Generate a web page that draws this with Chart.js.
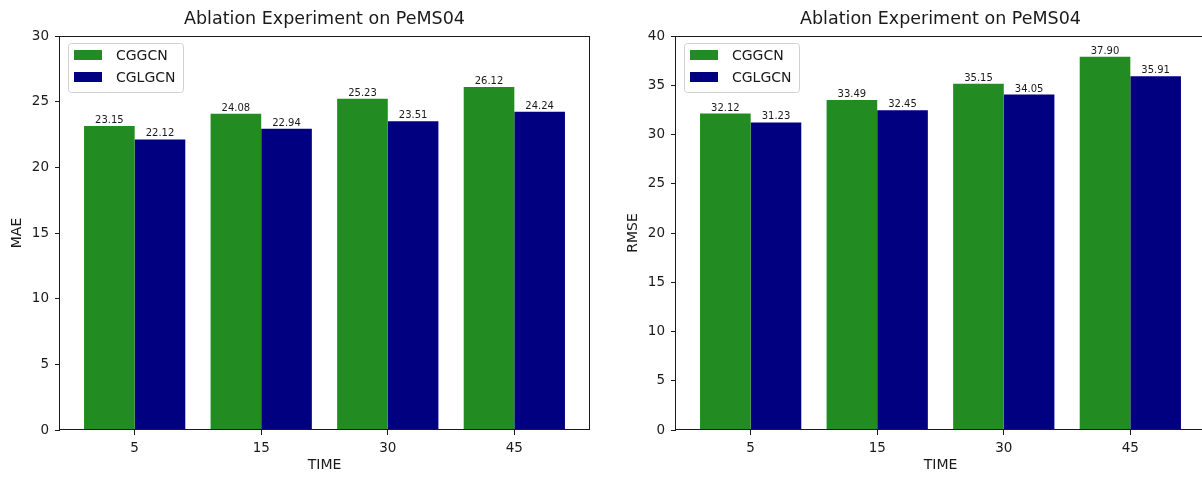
<!DOCTYPE html>
<html>
<head>
<meta charset="utf-8">
<script src="https://cdn.jsdelivr.net/npm/chart.js@4/dist/chart.umd.min.js"></script>
<style>
  html, body { margin: 0; padding: 0; background: #fff; overflow: hidden; }
  body { width: 1202px; height: 477px; position: relative; }
  canvas { position: absolute; top: 0; }
  #chartMae { left: 0; }
  #chartRmse { left: 616px; }
</style>
</head>
<body>
<canvas id="chartMae" width="600" height="477"></canvas>
<canvas id="chartRmse" width="600" height="477"></canvas>

<script>
const timeLabels = ['5', '15', '30', '45'];
const seriesNames = ['CGGCN', 'CGLGCN'];
const seriesColors = ['#228B22', '#000080'];

const maeCGGCN = [23.15, 24.08, 25.23, 26.12];
const maeCGLGCN = [22.12, 22.94, 23.51, 24.24];
const rmseCGGCN = [32.12, 33.49, 35.15, 37.90];
const rmseCGLGCN = [31.23, 32.45, 34.05, 35.91];

const FONT = "'DejaVu Sans', sans-serif";
const INK = '#1a1a1a';

// top + right spines (matplotlib box)
const framePlugin = {
  id: 'frame',
  afterDatasetsDraw(chart) {
    const {ctx, chartArea: a} = chart;
    ctx.save();
    ctx.strokeStyle = INK;
    ctx.lineWidth = 1;
    ctx.strokeRect(Math.round(a.left) - 0.5, Math.round(a.top) + 0.5,
      Math.round(a.right - a.left) + 1, Math.round(a.bottom - a.top) - 1);
    ctx.restore();
  }
};

// numbers above bars
const valueLabels = {
  id: 'valueLabels',
  afterDatasetsDraw(chart) {
    const {ctx} = chart;
    ctx.save();
    ctx.font = '10px ' + FONT;
    ctx.fillStyle = INK;
    ctx.textAlign = 'center';
    ctx.textBaseline = 'alphabetic';
    chart.data.datasets.forEach((ds, i) => {
      chart.getDatasetMeta(i).data.forEach((bar, j) => {
        ctx.fillText(ds.data[j].y.toFixed(2), bar.x, bar.y - 3);
      });
    });
    ctx.restore();
  }
};

// legend box in upper left of the axes
const boxLegend = {
  id: 'boxLegend',
  afterDatasetsDraw(chart) {
    const {ctx, chartArea: a} = chart;
    ctx.save();
    ctx.font = '14px ' + FONT;
    const textX = a.left + 56;
    let maxW = 0;
    chart.data.datasets.forEach(ds => { maxW = Math.max(maxW, ctx.measureText(ds.label).width); });
    const x = a.left + 8.5, y = a.top + 7.5;
    const w = textX + maxW + 8 - x, h = 49;
    ctx.beginPath();
    ctx.roundRect(x, y, w, h, 3);
    ctx.fillStyle = 'rgba(255,255,255,0.85)';
    ctx.fill();
    ctx.strokeStyle = '#d0d0d0';
    ctx.lineWidth = 1;
    ctx.stroke();
    ctx.textBaseline = 'middle';
    ctx.textAlign = 'left';
    chart.data.datasets.forEach((ds, i) => {
      const cy = a.top + 19 + i * 22;
      ctx.fillStyle = ds.backgroundColor;
      ctx.fillRect(a.left + 14, cy - 5, 28, 10);
      ctx.fillStyle = INK;
      ctx.fillText(ds.label, textX, cy + 1);
    });
    ctx.restore();
  }
};

function makeChart(id, yTitle, yMax, first, second) {
  const data = {
    datasets: [first, second].map((vals, k) => ({
      label: seriesNames[k],
      data: vals.map((v, i) => ({x: i, y: v})),
      backgroundColor: seriesColors[k],
      borderWidth: 0,
      barPercentage: 1,
      categoryPercentage: 0.8
    }))
  };

  const options = {
    responsive: false,
    animation: false,
    layout: { padding: { left: 0, top: 0, right: 11, bottom: 0 } },
    plugins: {
      legend: { display: false },
      tooltip: { enabled: false },
      title: {
        display: true,
        text: 'Ablation Experiment on PeMS04',
        fullSize: false,
        color: INK,
        font: { family: FONT, size: 17.5, weight: 'normal' },
        padding: { top: 9, bottom: 6 }
      }
    },
    scales: {
      x: {
        type: 'linear',
        min: -0.59,
        max: 3.59,
        offset: false,
        border: { display: false },
        grid: { offset: false, drawOnChartArea: false, drawTicks: true, tickLength: 5, color: INK },
        ticks: {
          autoSkip: false,
          maxRotation: 0,
          padding: 5,
          color: INK,
          font: { family: FONT, size: 13.5 },
          callback: v => timeLabels[v]
        },
        afterBuildTicks: s => { s.ticks = timeLabels.map((_, i) => ({value: i})); },
        afterFit: s => { s.height = 47; },
        title: {
          display: true,
          text: 'TIME',
          color: INK,
          font: { family: FONT, size: 14 },
          padding: { top: 0, bottom: 3 }
        }
      },
      y: {
        min: 0,
        max: yMax,
        border: { display: false },
        grid: { drawOnChartArea: false, drawTicks: true, tickLength: 5, color: INK },
        ticks: {
          stepSize: 5,
          padding: 6,
          color: INK,
          font: { family: FONT, size: 13.5 }
        },
        afterFit: s => { s.width = 60; },
        title: {
          display: true,
          text: yTitle,
          color: INK,
          font: { family: FONT, size: 14 },
          padding: { top: 9, bottom: 0 }
        }
      }
    }
  };

  return new Chart(document.getElementById(id), {
    type: 'bar',
    data: data,
    options,
    plugins: [framePlugin, valueLabels, boxLegend]
  });
}

makeChart('chartMae', 'MAE', 30, maeCGGCN, maeCGLGCN);
makeChart('chartRmse', 'RMSE', 40, rmseCGGCN, rmseCGLGCN);
</script>
</body>
</html>
